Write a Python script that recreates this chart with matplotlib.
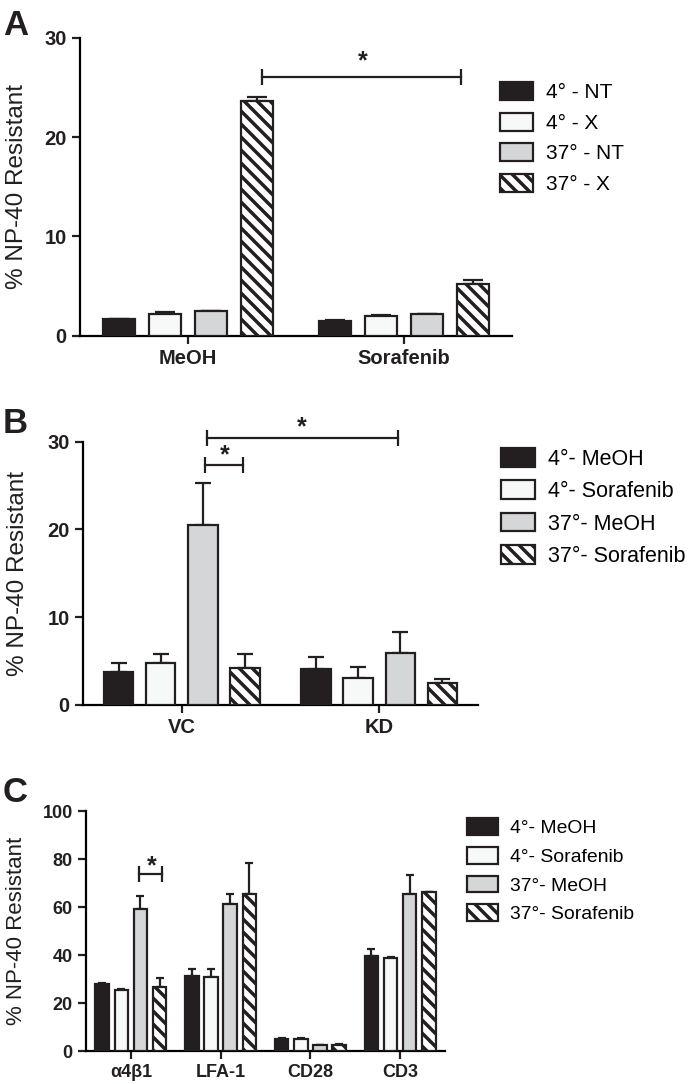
import numpy as np
import matplotlib
matplotlib.use('Agg')
import matplotlib.pyplot as plt

# dpi bajo para que la trama diagonal quede con el paso del original (~13 px)
DPI = 78
K = 100 / DPI

plt.rcParams['font.family'] = ['Liberation Sans', 'DejaVu Sans']
plt.rcParams['hatch.linewidth'] = 2.5 * K
plt.rcParams['axes.linewidth'] = 1.6 * K

# Colores y etiquetas de las series
colores = ['#231f20', '#f7f8f8', '#d5d6d8', 'white']
tramas = ['', '', '', '\\\\']

# Panel A
grupos_a = ['MeOH', 'Sorafenib']
series_a = ['4° - NT', '4° - X', '37° - NT', '37° - X']
medias_a = [[1.64, 1.5], [2.2, 1.98], [2.48, 2.15], [23.66, 5.2]]
errores_a = [[0.08, 0.05], [0.15, 0.08], [0.05, 0.05], [0.4, 0.4]]

# Panel B
grupos_b = ['VC', 'KD']
series_b = ['4°- MeOH', '4°- Sorafenib', '37°- MeOH', '37°- Sorafenib']
medias_b = [[3.8, 4.06], [4.75, 3.08], [20.5, 5.96], [4.25, 2.47]]
errores_b = [[0.95, 1.45], [1.1, 1.3], [4.8, 2.4], [1.6, 0.45]]

# Panel C
grupos_c = ['α4β1', 'LFA-1', 'CD28', 'CD3']
series_c = ['4°- MeOH', '4°- Sorafenib', '37°- MeOH', '37°- Sorafenib']
medias_c = [[27.9, 31.4, 5.0, 39.4], [25.6, 30.8, 5.0, 38.75],
            [59.2, 61.1, 2.4, 65.4], [26.5, 65.4, 2.6, 66.1]]
errores_c = [[0.4, 2.6, 0.3, 3.2], [0.3, 3.2, 0.3, 0.3],
             [5.5, 4.3, 0.2, 8.1], [4.0, 13.1, 0.3, 0.3]]

desplaz = [-0.32, -0.107, 0.107, 0.32]
ancho = 0.15
negro = '#231f20'
lw = 1.6 * K


def graficar(ax, grupos, series, medias, errores, ymax, paso, cap, fs_tick, fs_lab):
    x = np.arange(len(grupos))
    for i in range(4):
        ax.bar(x + desplaz[i], medias[i], ancho, color=colores[i], hatch=tramas[i],
               edgecolor=negro, linewidth=lw, label=series[i], zorder=3)
        ax.errorbar(x + desplaz[i], medias[i], yerr=[np.zeros(len(grupos)), errores[i]],
                    fmt='none', ecolor=negro, elinewidth=lw, capsize=cap * K,
                    capthick=lw, zorder=2)
    ax.set_xlim(-0.5, len(grupos) - 0.5)
    ax.set_ylim(0, ymax)
    ax.set_yticks(np.arange(0, ymax + 1, paso))
    ax.set_xticks(x)
    ax.set_xticklabels(grupos, fontsize=fs_tick * K, fontweight='bold')
    for t in ax.get_yticklabels():
        t.set_fontsize(fs_tick * K)
        t.set_fontweight('bold')
    ax.tick_params(length=6 * K, width=lw, colors=negro, pad=3.5 * K)
    ax.spines['top'].set_visible(False)
    ax.spines['right'].set_visible(False)
    ax.set_ylabel('% NP-40 Resistant', fontsize=fs_lab * K, color=negro)


def corchete(ax, x1, x2, y, xs, ys, fs=18):
    ax.plot([x1, x2], [y, y], color=negro, lw=lw, clip_on=False, zorder=4)
    ax.plot([x1, x2], [y, y], ls='none', marker='|', ms=11 * K, mew=lw,
            color=negro, clip_on=False, zorder=4)
    ax.text(xs, ys, '*', ha='center', va='center', fontsize=fs * K,
            fontweight='bold', color=negro)


def leyenda(ax, x, y, fs):
    ax.legend(loc='upper left', bbox_to_anchor=(x / W, 1 - y / H),
              bbox_transform=fig.transFigure, frameon=False, fontsize=fs * K,
              handlelength=1.6, handleheight=0.95, handletextpad=0.6,
              labelspacing=0.5, borderpad=0, borderaxespad=0)


W, H = 688, 1084
fig = plt.figure(figsize=(W / DPI, H / DPI), dpi=DPI)

ax_a = fig.add_axes([80 / W, 1 - 335.7 / H, 432 / W, 298 / H])
graficar(ax_a, grupos_a, series_a, medias_a, errores_a, 30, 10, 7, 14.5, 17.5)
ax_a.yaxis.set_label_coords(-0.12, 0.5)
corchete(ax_a, 0.343, 1.264, 26.0, 0.81, 27.6)
leyenda(ax_a, 500, 82, 15)

ax_b = fig.add_axes([83 / W, 1 - 705 / H, 395 / W, 263.3 / H])
graficar(ax_b, grupos_b, series_b, medias_b, errores_b, 30, 10, 5.4, 14.5, 17.5)
ax_b.yaxis.set_label_coords(-0.137, 0.5)
corchete(ax_b, 0.127, 1.096, 30.4, 0.609, 31.6)
corchete(ax_b, 0.117, 0.31, 27.3, 0.218, 28.5)
leyenda(ax_b, 501, 448, 15.5)

ax_c = fig.add_axes([86 / W, 1 - 1051 / H, 359 / W, 240 / H])
graficar(ax_c, grupos_c, series_c, medias_c, errores_c, 100, 20, 3, 13, 16)
ax_c.yaxis.set_label_coords(-0.164, 0.5)
corchete(ax_c, 0.09, 0.345, 73.75, 0.234, 77.0)
leyenda(ax_c, 467, 818, 14)

for letra, yb in [('A', 35), ('B', 433), ('C', 802)]:
    fig.text(3 / W, 1 - yb / H, letra, fontsize=25 * K, fontweight='bold',
             va='baseline', ha='left', color=negro)

fig.savefig('out.png', dpi=DPI)
